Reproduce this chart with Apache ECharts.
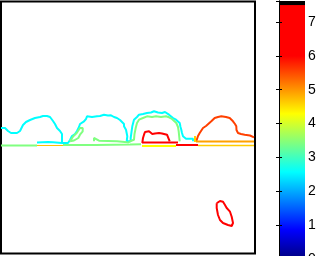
<!DOCTYPE html>
<html><head><meta charset="utf-8">
<script src="https://cdn.jsdelivr.net/npm/echarts@6/dist/echarts.min.js"></script>
<style>html,body{margin:0;padding:0;background:#fff}#c{width:326px;height:256px}</style>
</head><body><div id="c"></div>
<script>
// contour levels (value) and colours
const cyanLevel = '#00ffff';
const greenLevel = '#80ff80';
const yellowLevel = '#ffff00';
const orangeLevel = '#ffa000';
const orangeRedLevel = '#ff4000';
const redLevel = '#ff0000';

// contour paths (x, y in plot units; y grows downward)
const cyanA = [[1,128],[5,128],[7,130],[8,131],[11,133],[13,135],[17,133],[20,131],[22,129],[23,125],[23,123],[26,122],[28,121],[30,120],[32,119],[35,118],[37,117],[40,117],[43,116],[47,116],[50,117],[52,119],[53,121],[55,124],[57,128],[59,130],[60,131],[61,133],[62,134],[62,143]];
const cyanABottom = [[62,143],[53,142.3],[51,140.7],[48,142],[37,142.5]];
const cyanB = [[62,143],[68,143],[70,140],[72,136],[75,134],[77,131],[79,127],[80,124],[82,123],[84,121.3],[86,119],[87,116.3],[92,117],[97,116.3],[100,116],[104,114.7],[108,115.5],[111,115.3],[114,117],[117,118],[120,120],[122,121.3],[124,124],[124,126.3],[126,129.7],[127.3,136.3],[126.7,141.3],[130.7,141.3],[130.7,138],[131.5,132],[132.3,126.3],[134,119.7],[137,117],[139,114.7],[143,114],[147,113],[151,112.5],[154,111.3],[158,112.5],[162,113],[165,112],[167,113],[169,114.7],[171,115.3],[173,118],[176,119.7],[178,121],[179.7,123],[180.5,127],[181.3,129.7],[182,133],[183,136.3],[186,138.7],[193,138.7],[193,141.3]];
const greenBlob = [[70,141.3],[73.3,136.3],[76.7,133],[80,128],[81.7,126.3],[82.7,128],[82.7,131.3],[80,134.7],[78.3,138],[74,140.5],[70,141.3]];
const greenC = [[127.3,143],[130,141.3],[134,139.7],[134.5,134],[135.7,128],[137,123],[139,119.7],[143,118],[147,116.3],[152,117],[156,116.3],[161,117],[166,116.3],[169,117.3],[172,119],[176.3,123],[178,127],[178.7,131.3],[179.7,141.3]];
const greenD = [[94,141.3],[94,138],[99,140.7],[117,141.3],[127.3,142.3]];
const redC = [[142.3,143],[143,138],[144,134.7],[145,132],[149,131.3],[152.3,134],[155,133.5],[159,133],[162,133.5],[164,133],[167,134.7],[169,136.3],[169.7,141.3]];
const orangeRedC = [[196.3,141.3],[198,136],[199.7,133],[203,128],[206,126],[208,124.7],[211.3,121.3],[214.7,118],[218,117],[221.3,116.3],[226,117],[229.7,118],[233,121.3],[235,124],[236.3,126.3],[236.5,130],[238,133],[241,134],[244.7,134.7],[250,135.5],[254,137.3]];
const orangeTick = [[195,136],[195,142]];
const redBlob = [[216.7,203.3],[220,201],[223,201.7],[225,205],[226.7,208],[230,211.7],[231.7,216.7],[233,223],[231.7,226],[228,225],[223,223],[220,220],[218,215],[216.7,208],[216.7,203.3]];
const greenBase1 = [[1,145.5],[37,145.5]];
const orangeBase1 = [[37,145.5],[64,145.5]];
const greenBase2 = [[63,145],[96,145],[130,144.5],[141,144.3]];
const yellowBase1 = [[142,146],[176,146]];
const redBase1 = [[142,142.5],[178,142.5]];
const redBase2 = [[176,145],[198,145]];
const orangeBase2 = [[196,141.5],[204,141.5],[205,140],[207,141.5],[219,141.5],[220,140],[222,141.5],[254,141.5]];
const yellowBase2 = [[198,145.5],[254,145.5]];

// colour bar
const cbarTicks = [0,1,2,3,4,5,6,7];
const cbarMin = 0, cbarMax = 7.62, cbarTop = 7.5;
const jetStops = [[0,'#000080'],[0.86,'#0000ff'],[2.57,'#00ffff'],[4.29,'#ffff00'],[6.0,'#ff0000'],[7.5,'#ff0000']];
const cbarSegments = [[0, cbarMin, cbarTop, 'grad'], [0, cbarTop, cbarMax, 'black']];

const contours = [
  [cyanA, cyanLevel, 2], [cyanABottom, cyanLevel, 2], [cyanB, cyanLevel, 2],
  [greenBlob, greenLevel, 2], [greenC, greenLevel, 2], [greenD, greenLevel, 2],
  [redC, redLevel, 2], [orangeRedC, orangeRedLevel, 2], [orangeTick, '#ffd000', 2],
  [redBlob, redLevel, 2],
  [greenBase1, greenLevel, 2], [orangeBase1, '#ffbf00', 1], [greenBase2, greenLevel, 2],
  [yellowBase1, yellowLevel, 2], [redBase1, redLevel, 2], [redBase2, redLevel, 2],
  [orangeBase2, orangeLevel, 2], [yellowBase2, '#ffcc00', 1.5]
];

const chart = echarts.init(document.getElementById('c'), null, {renderer:'canvas'});
const series = contours.map(([d, col, w]) => ({
  type:'line', xAxisIndex:0, yAxisIndex:0, data:d, showSymbol:false, symbol:'none',
  lineStyle:{color:col, width:w}, animation:false, z:3, silent:true
}));
series.push({
  type:'custom', xAxisIndex:1, yAxisIndex:1, data:cbarSegments, encode:{x:0, y:[1,2]}, animation:false, silent:true,
  renderItem:(params, api) => {
    const lo = api.value(1), hi = api.value(2);
    const p0 = api.coord([0, lo]), p1 = api.coord([1, hi]);
    const kind = cbarSegments[params.dataIndex][3];
    let fill = '#000';
    if (kind === 'grad') {
      fill = new echarts.graphic.LinearGradient(0,1,0,0, jetStops.map(s => ({offset:(s[0]-lo)/(hi-lo), color:s[1]})));
    }
    return {type:'rect', shape:{x:p0[0], y:p1[1], width:p1[0]-p0[0], height:p0[1]-p1[1]}, style:{fill}};
  }
});

chart.setOption({
  animation:false,
  backgroundColor:'#fff',
  grid:[
    {left:1, top:1.5, width:254, height:252, show:true, borderColor:'#000', borderWidth:2, backgroundColor:'transparent', outerBoundsMode:'none', containLabel:false},
    {left:279, top:1, width:26, height:258, show:false, outerBoundsMode:'none', containLabel:false}
  ],
  xAxis:[
    {type:'value', gridIndex:0, min:1, max:255, show:false},
    {type:'value', gridIndex:1, min:0, max:1, show:false}
  ],
  yAxis:[
    {type:'value', gridIndex:0, min:1.5, max:253.5, inverse:true, show:false},
    {type:'value', gridIndex:1, min:cbarMin, max:cbarMax, interval:1, position:'right', z:10,
     axisLine:{show:true, lineStyle:{color:'#000', width:1}},
     axisTick:{show:true, inside:true, length:3, lineStyle:{color:'#000'}},
     axisLabel:{show:true, color:'#000', fontSize:14, fontFamily:'Liberation Sans, Arial, sans-serif', margin:3,
       formatter:v => cbarTicks.includes(v) ? String(v) : ''},
     splitLine:{show:false}},
    {type:'value', gridIndex:1, min:cbarMin, max:cbarMax, interval:1, position:'left', z:10,
     axisLine:{show:true, lineStyle:{color:'#000', width:1}},
     axisTick:{show:true, inside:true, length:3, lineStyle:{color:'#000'}},
     axisLabel:{show:false}, splitLine:{show:false}}
  ],
  series
});
</script></body></html>
